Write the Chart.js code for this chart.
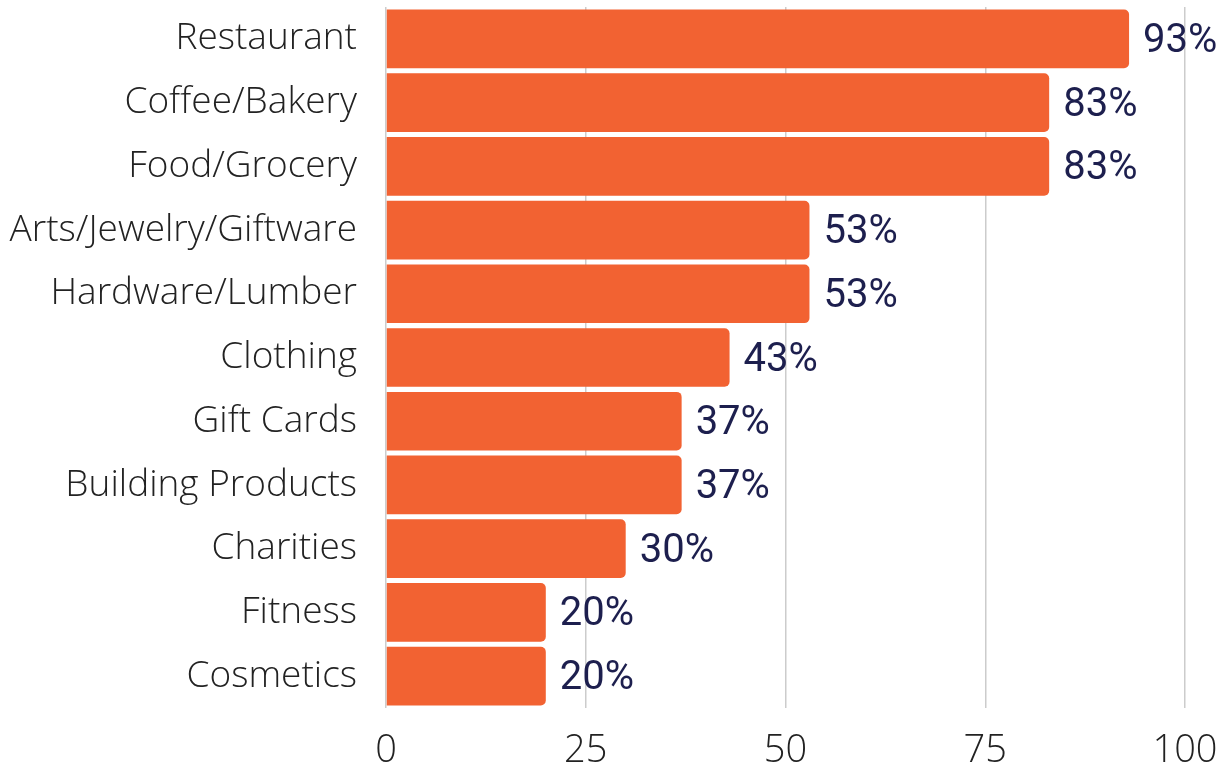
<!DOCTYPE html>
<html>
<head>
<meta charset="utf-8">
<title>Categories</title>
<script src="https://cdn.jsdelivr.net/npm/chart.js@4/dist/chart.umd.min.js"></script>
<style>
  html, body { margin: 0; padding: 0; background: #fff; }
  #wrap { width: 1229px; height: 765px; }
</style>
</head>
<body>
<div id="wrap"><canvas id="chart-categorias"></canvas></div>
<script>
'use strict';

var categorias = ['Restaurant', 'Coffee/Bakery', 'Food/Grocery', 'Arts/Jewelry/Giftware',
  'Hardware/Lumber', 'Clothing', 'Gift Cards', 'Building Products', 'Charities',
  'Fitness', 'Cosmetics'];
var porcentajes = [93, 83, 83, 53, 53, 43, 37, 37, 30, 20, 20];
var ticksX = [0, 25, 50, 75, 100];

var etiquetasValor = {
  id: 'etiquetasValor',
  afterDatasetsDraw: function (chart) {
    var ctx = chart.ctx;
    var meta = chart.getDatasetMeta(0);
    ctx.save();
    ctx.fillStyle = '#1d1f4e';
    ctx.font = '40px Roboto, sans-serif';
    ctx.textAlign = 'left';
    ctx.textBaseline = 'middle';
    meta.data.forEach(function (bar, i) {
      ctx.fillText(porcentajes[i] + '%', bar.x + 14, bar.y + 3);
    });
    ctx.restore();
  }
};

var SalesChart = (function () {

  var canvas = document.getElementById('chart-categorias');
  if (!canvas) return;

  new Chart(canvas, {
    type: 'bar',
    data: {
      labels: categorias,
      datasets: [{
        data: porcentajes,
        backgroundColor: '#f26232',
        borderRadius: 5,
        borderSkipped: 'start',
        categoryPercentage: 0.93,
        barPercentage: 0.99
      }]
    },
    options: {
      indexAxis: 'y',
      responsive: true,
      maintainAspectRatio: false,
      animation: false,
      layout: { padding: { top: 7, right: 44, bottom: 0, left: 0 } },
      plugins: {
        legend: { display: false },
        tooltip: { enabled: false }
      },
      scales: {
        x: {
          min: 0,
          max: 100,
          afterBuildTicks: function (scale) {
            scale.ticks = ticksX.map(function (v) { return { value: v }; });
          },
          afterFit: function (scale) {
            scale.height = 57;
            scale.paddingLeft = 0;
            scale.paddingRight = 0;
          },
          grid: { color: '#cccccc', drawTicks: false, lineWidth: 1.5 },
          border: { display: false },
          ticks: {
            color: '#222222',
            padding: 20,
            maxRotation: 0,
            font: { family: 'Open Sans', size: 38, weight: 300 }
          }
        },
        y: {
          grid: { display: false },
          border: { display: false },
          afterFit: function (scale) {
            scale.width = 386;
            scale.paddingTop = 0;
            scale.paddingBottom = 0;
          },
          ticks: {
            color: '#222222',
            padding: 21,
            font: { family: 'Open Sans', size: 37, weight: 300 }
          }
        }
      }
    },
    plugins: [etiquetasValor]
  });

})();
</script>
</body>
</html>
